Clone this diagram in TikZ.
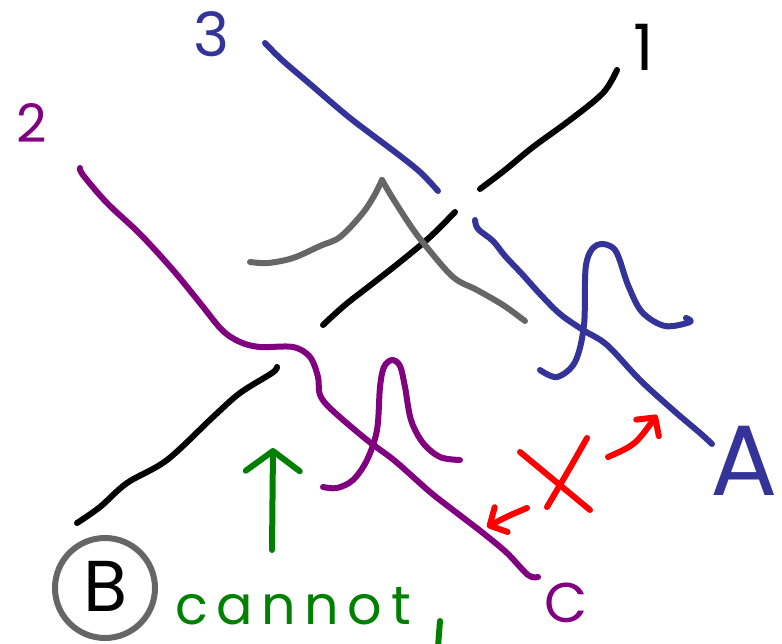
\documentclass[tikz,border=0pt]{standalone}
\usepackage{fontspec}
\setmainfont{Poppins}
\usetikzlibrary{arrows.meta,positioning}
\definecolor{inkblue}{RGB}{51,51,153}
\definecolor{inkpurple}{RGB}{128,0,128}
\definecolor{inkgray}{RGB}{102,102,102}
\definecolor{inkgreen}{RGB}{0,128,0}
\definecolor{inkred}{RGB}{255,0,0}
\newcommand{\inksize}[1]{\fontsize{#1}{#1}\selectfont}

\begin{document}
\begin{tikzpicture}[
    x=1pt, y=-1pt,
    % pen strokes
    pen/.style={
        line width=6pt,
        line cap=round,
        line join=round
    },
    stroke/.style={
        pen,
        smooth,
        tension=0.55
    },
    tag/.style={
        inner sep=0pt,
        outer sep=0pt
    },
    ringnode/.style={
        circle,
        draw=inkgray,
        line width=6pt,
        minimum size=100pt,
        inner sep=0pt
    }
]

    % =========================================================================
    % 1. FRAME
    % =========================================================================
    \useasboundingbox (0,0) rectangle (782,643);
    \clip (0,0) rectangle (782,643);

    % =========================================================================
    % 2. LINES 1, 2, 3 (broken where they cross)
    % =========================================================================
    % Line 3 (blue)
    \draw[stroke, inkblue] plot coordinates {
        (265,43) (282,60) (310,84) (350,118) (395,152) (420,172) (438,191)};
    \draw[stroke, inkblue] plot coordinates {
        (475,220) (478,229) (493,241) (505,256) (522,274) (540,294)
        (560,314) (583,330) (607,345) (640,380) (673,410) (700,433) (712,444)};

    % Line 1 (black)
    \draw[stroke, black] plot coordinates {
        (480,189) (505,170) (533,147) (570,120) (603,93) (617,70)};
    \draw[stroke, black] plot coordinates {
        (455,212) (430,237) (400,262) (372,284) (345,305) (323,325)};
    \draw[stroke, black] plot coordinates {
        (277,367) (272,373) (240,393) (213,417) (167,460) (127,483)
        (100,507) (77,523)};

    % Line 2 (purple)
    \draw[stroke, inkpurple] plot coordinates {
        (80,168) (83,175) (107,203) (140,234) (173,270) (200,303) (222,330)
        (240,342) (260,347) (293,347) (310,357) (318,377) (320,395)
        (332,410) (367,440) (395,461) (430,492) (457,513) (483,533)
        (507,553) (528,575) (538,577)};

    % =========================================================================
    % 3. PEAKS
    % =========================================================================
    % Gray peak
    \draw[stroke, inkgray] plot coordinates {
        (250,262) (268,263) (293,258) (320,246) (340,237) (362,214)
        (374,196) (382,180)};
    \draw[stroke, inkgray] plot coordinates {
        (382,180) (392,197) (410,225) (425,245) (453,277) (477,290)
        (503,305) (525,321)};

    % Blue peak
    \draw[stroke, inkblue] plot coordinates {
        (540,370) (557,377) (575,362) (584,325) (586,265) (597,245)
        (615,250) (628,285) (642,312) (665,326) (690,322) (686,318)};

    % Purple peak
    \draw[stroke, inkpurple] plot coordinates {
        (323,487) (337,488) (353,480) (367,460) (377,430) (380,387)
        (384,367) (392,360) (400,366) (405,387) (411,420) (423,443)
        (440,457) (460,460)};

    % =========================================================================
    % 4. LABELS
    % =========================================================================
    \node[tag, text=inkblue, font=\inksize{61}] (lab3) at (211,34) {3};
    \node[tag, text=inkpurple, font=\inksize{53}] (lab2) at (32,123) {2};
    \node[tag, text=black, font=\inksize{64}] (lab1) at (644,47) {1};
    \node[tag, text=inkblue, font=\inksize{100}] (labA) at (744,461) {A};
    \node[tag, text=inkpurple, font=\inksize{56}] (labC) at (566,603) {C};

    % B in a ring
    \node[ringnode] (ringB) at (105,588) {};
    \node[tag, text=black, font=\inksize{72}] (labB) at (106,586) {B};

    % =========================================================================
    % 5. GREEN ARROW AND NOTE
    % =========================================================================
    \coordinate (uptail) at (272,550);
    \coordinate (uptip) at (273,448);
    \draw[inkgreen, pen, -{Straight Barb[round, length=20pt, width=54pt]}]
        (uptail) -- (uptip);

    \node[tag, text=inkgreen, anchor=base west,
        font=\inksize{54}\addfontfeature{LetterSpace=16}] (note) at (175,624) {cannot};
    \coordinate (nextword) at (440,621);
    \draw[pen, inkgreen] (nextword) -- ++(-2,26);

    % =========================================================================
    % 6. RED CROSSED DOUBLE ARROW
    % =========================================================================
    \coordinate (crossA1) at (520,452);
    \coordinate (crossA2) at (590,510);
    \coordinate (crossB1) at (587,438);
    \coordinate (crossB2) at (547,507);
    \draw[pen, inkred] (crossA1) -- (crossA2);
    \draw[pen, inkred] (crossB1) .. controls (570,468) .. (crossB2);

    \coordinate (leftfrom) at (527,508);
    \coordinate (lefttip) at (487,527);
    \coordinate (rightfrom) at (608,457);
    \coordinate (righttip) at (657,415);
    \draw[inkred, pen, -{Straight Barb[round, length=13pt, width=28pt]}]
        (leftfrom) .. controls (508,516) .. (lefttip);
    \draw[inkred, pen, -{Straight Barb[round, length=13pt, width=28pt]}]
        (rightfrom) .. controls (635,445) .. (righttip);

\end{tikzpicture}
\end{document}
